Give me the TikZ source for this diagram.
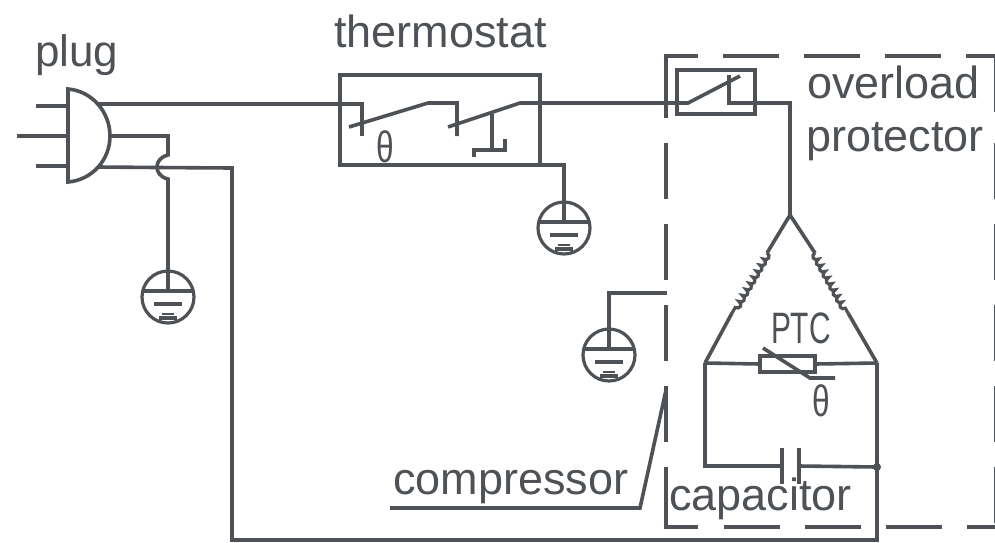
\documentclass[tikz,border=0pt]{standalone}
\usepackage{fontspec}
\setmainfont{Liberation Sans}
\usetikzlibrary{decorations.pathmorphing}
\definecolor{ink}{HTML}{4E5156}
\newcommand{\lbl}{\fontsize{44}{44}\selectfont}
\tikzset{
  wire/.style={draw=ink,line width=3.6pt,line join=miter},
  thin wire/.style={draw=ink,line width=3.2pt},
  box/.style={draw=ink,line width=3.6pt,rectangle,inner sep=0pt,outer sep=0pt},
  caption/.style={text=ink,inner sep=0pt,outer sep=0pt,anchor=base west},
  dashes/.style={draw=ink,line width=4pt,dash pattern=on 56pt off 25pt},
  coilwire/.style={draw=ink,line width=3.2pt,decorate,decoration={bumps,segment length=14pt,amplitude=4pt}},
  gnd/.pic={
    \draw[thin wire] (0,0) circle (26);
    \draw[thin wire] (-26,-6) -- (26,-6);
    \draw[thin wire] (0,-26) -- (0,-6);
    \draw[thin wire] (-14,7) -- (14,7);
    \draw[thin wire] (-9,21) -- (9,21);
    \draw[draw=ink,line width=1.5pt] (-6,17) -- (6,17);
  }
}
\begin{document}
\begin{tikzpicture}[x=1pt,y=-1pt]
\useasboundingbox (0,0) rectangle (995,542);
% named points
\coordinate (plugtop) at (68,89);
\coordinate (plugbot) at (68,182);
\coordinate (plugmid) at (110,136);
\coordinate (plugA) at (98,104);
\coordinate (plugC) at (98,167);
\coordinate (pr1) at (36,106); \coordinate (pr1e) at (68,106);
\coordinate (pr2) at (17,136); \coordinate (pr2e) at (68,136);
\coordinate (pr3) at (36,166); \coordinate (pr3e) at (68,166);
\coordinate (g1) at (168,297);
\coordinate (g2) at (564,228);
\coordinate (g3) at (609,355);
\coordinate (apex) at (790,215);
\coordinate (triL) at (705,363);
\coordinate (triR) at (877,363);
\coordinate (capdot) at (877,467);
% plug
\draw[wire] (plugtop) -- (plugbot) .. controls (92,180) and (110,160) .. (plugmid) .. controls (110,112) and (92,91) .. (plugtop) -- cycle;
\draw[wire] (pr1) -- (pr1e);
\draw[wire] (pr2) -- (pr2e);
\draw[wire] (pr3) -- (pr3e);
% thermostat
\node[box,minimum width=200pt,minimum height=90pt] (thermo) at (440,120) {};
\draw[wire] (plugA) -- (362,104) -- (362,136);
\draw[wire] (349,127) -- (428,103) -- (457,103) -- (457,136);
\draw[wire] (448,127) -- (520,103) -- (688,103) -- (740,76);
\draw[wire] (492,114) -- (492,150);
\draw[wire] (474,157) -- (474,150) -- (505,150) -- (505,139);
\node[text=ink,inner sep=0pt] (thetaA) at (385,147) {\lbl\scalebox{.72}[1]{θ}};
% ground wires
\draw[wire] (plugmid) -- (168,136) -- (168,155) .. controls (160,157) and (157,162) .. (157,167) .. controls (157,172) and (160,177) .. (168,179) -- (168,271);
\draw[wire] (plugC) -- (157,167.5) -- (232,168) -- (232,540) -- (877,540) -- (triR);
\draw[wire] (thermo.south east) -- (564,165) -- (564,202);
\draw[wire] (667,293) -- (609,293) -- (609,329);
\pic at (g1) {gnd};
\pic at (g2) {gnd};
\pic at (g3) {gnd};
% overload protector
\node[box,minimum width=78pt,minimum height=44pt] (ovl) at (716,92) {};
\draw[wire] (729,75) -- (729,103) -- (790,103) -- (apex);
% triangle with coils
\coordinate (cL1) at (767,253); \coordinate (cL2) at (732,313);
\coordinate (cR1) at (815,253); \coordinate (cR2) at (848,313);
\draw[wire] (apex) -- (cL1);
\draw[coilwire] (cL1) -- (cL2);
\draw[wire] (cL2) -- (triL);
\draw[wire] (apex) -- (cR1);
\draw[coilwire,decoration={mirror}] (cR1) -- (cR2);
\draw[wire] (cR2) -- (triR);
% PTC
\node[box,minimum width=55pt,minimum height=16pt] (ptc) at (787.5,364) {};
\draw[wire] (triL) -- (ptc.west);
\draw[wire] (ptc.east) -- (triR);
\draw[wire] (763,348) -- (810,378) -- (835,378);
\node[caption] (ptctxt) at (771,343) {\lbl\scalebox{.68}[1]{PTC}};
\node[text=ink,inner sep=0pt] (thetaB) at (821,401) {\lbl\scalebox{.72}[1]{θ}};
% capacitor
\coordinate (capL) at (782,466); \coordinate (capR) at (799,466);
\draw[wire] (triL) -- (705,466) -- (capL);
\draw[wire] (capR) -- (capdot);
\draw[wire] (782,448) -- (782,484);
\draw[wire] (799,448) -- (799,484);
\fill[ink] (capdot) circle (4);
% dashed enclosure
\draw[wire,line width=4pt] (666,118) -- (666,56) -- (698,56);
\draw[wire,line width=4pt] (666,467) -- (666,527) -- (698,527);
\draw[dashes] (723,56) -- (995,56);
\draw[dashes] (724,527) -- (995,527);
\draw[dashes] (666,143) -- (666,445);
\draw[dashes] (996,56) -- (996,118);
\draw[dashes] (996,143) -- (996,527);
% compressor leader
\draw[wire] (390,508) -- (640,508) -- (666,390);
% labels
\node[caption] (plugt) at (35,66) {\fontsize{44}{44}\selectfont plug};
\node[caption] (thermot) at (334,47) {\fontsize{45}{45}\selectfont thermostat};
\node[caption] (ovlt) at (807,98) {\fontsize{45}{45}\selectfont overload};
\node[caption] (prott) at (806,151) {\fontsize{45}{45}\selectfont protector};
\node[caption] (compt) at (393,494) {\fontsize{45}{45}\selectfont compressor};
\node[caption] (capt) at (669,510) {\fontsize{45}{45}\selectfont capacitor};
\end{tikzpicture}
\end{document}
